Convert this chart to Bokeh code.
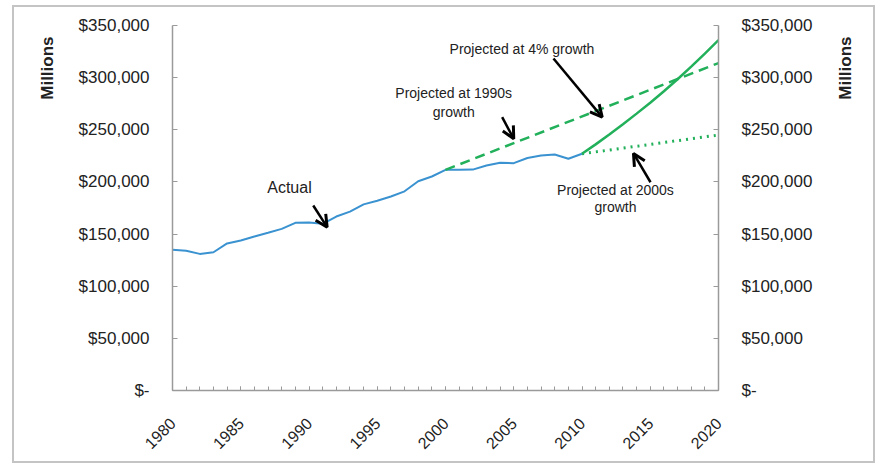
from math import pi
from bokeh.plotting import figure
from bokeh.models import (Range1d, LinearAxis, SingleIntervalTicker, FixedTicker,
                          CustomJSTickFormatter, Label, Arrow, OpenHead)
from bokeh.layouts import column, row
from bokeh.embed import file_html
from bokeh.resources import INLINE

# ---- data (values in $ millions) ----
years_actual = [1980, 1981, 1982, 1983, 1984, 1985, 1986, 1987, 1988, 1989,
                1990, 1991, 1992, 1993, 1994, 1995, 1996, 1997, 1998, 1999,
                2000, 2001, 2002, 2003, 2004, 2005, 2006, 2007, 2008, 2009, 2010]
actual = [135000, 134000, 131000, 132600, 141000, 143800, 147700, 151200, 155000, 160800,
          161000, 159800, 166800, 171500, 178500, 182000, 186000, 191000, 200700, 205200,
          211600, 211600, 211800, 215800, 218300, 218000, 223000, 225300, 226300, 222200, 227000]

years_4pct = [2010, 2011, 2012, 2013, 2014, 2015, 2016, 2017, 2018, 2019, 2020]
proj_4pct = [227000, 236000, 245500, 255300, 265500, 276000, 287000, 298500, 310500, 323000, 336000]

years_1990s = [2000, 2020]
proj_1990s = [211600, 314000]

years_2000s = [2010, 2020]
proj_2000s = [227000, 245000]

y_ticks = [0, 50000, 100000, 150000, 200000, 250000, 300000, 350000]
unit_label = "Millions"

BLUE = "#3a92d0"
GREEN = "#22b05b"
AXIS = "#9a9a9a"
TXT = "#222222"
FONT = "Liberation Sans"
H = 454

p = figure(width=762, height=H, output_backend="svg", toolbar_location=None,
           x_range=Range1d(1980, 2020), y_range=Range1d(0, 350000),
           min_border_left=108, min_border_right=108, min_border_top=18,
           min_border_bottom=71, background_fill_color="white",
           border_fill_color="white", outline_line_color=None, y_axis_location=None)

p.xgrid.visible = False
p.ygrid.visible = False

fmt = CustomJSTickFormatter(code="""
if (tick == 0) { return "$-"; }
return "$" + tick.toFixed(0).replace(/\\B(?=(\\d{3})+(?!\\d))/g, ",");
""")

for side in ("left", "right"):
    ax = LinearAxis(ticker=FixedTicker(ticks=y_ticks), formatter=fmt)
    ax.axis_line_color = AXIS
    ax.axis_line_width = 1.5
    ax.major_tick_line_color = AXIS
    ax.major_tick_in = 5
    ax.major_tick_out = 0
    ax.minor_tick_line_color = None
    ax.major_label_text_font = FONT
    ax.major_label_text_font_size = "17px"
    ax.major_label_text_color = TXT
    ax.major_label_standoff = 23
    p.add_layout(ax, side)

xa = p.xaxis[0]
xa.ticker = SingleIntervalTicker(interval=5, num_minor_ticks=5)
xa.axis_line_color = AXIS
xa.axis_line_width = 1.5
xa.major_tick_line_color = AXIS
xa.minor_tick_line_color = AXIS
xa.major_tick_in = 4
xa.major_tick_out = 0
xa.minor_tick_in = 4
xa.minor_tick_out = 0
xa.major_label_orientation = pi / 4
xa.major_label_text_font = FONT
xa.major_label_text_font_size = "16px"
xa.major_label_text_color = TXT
xa.major_label_standoff = 30

# ---- series ----
p.line(years_actual, actual, line_color=BLUE, line_width=2)
p.line(years_1990s, proj_1990s, line_color=GREEN, line_width=2.5, line_dash="10 6")
p.line(years_2000s, proj_2000s, line_color=GREEN, line_width=3, line_dash="2 5")
p.line(years_4pct, proj_4pct, line_color=GREEN, line_width=2.5)

# ---- annotations ----
def lab(fig, x, y, t, size="14px", bold=False, angle=0.0):
    fig.add_layout(Label(x=x, y=y, text=t, text_align="center", text_baseline="middle",
                         text_font=FONT, text_font_size=size, text_color=TXT,
                         text_font_style="bold" if bold else "normal", angle=angle))

lab(p, 1988.57, 194700, "Actual", size="16px")
lab(p, 2000.6, 284800, "Projected at 1990s")
lab(p, 2000.6, 267500, "growth")
lab(p, 2005.6, 327900, "Projected at 4% growth")
lab(p, 2012.45, 192400, "Projected at 2000s")
lab(p, 2012.45, 175500, "growth")

def arrow(x0, y0, x1, y1):
    p.add_layout(Arrow(end=OpenHead(size=12, line_width=3, line_color="black"),
                       x_start=x0, y_start=y0, x_end=x1, y_end=y1,
                       line_width=2.5, line_color="black"))

arrow(1990.31, 177400, 1991.33, 156600)
arrow(2004.15, 262100, 2005.0, 241400)
arrow(2007.91, 318400, 2011.48, 262100)
arrow(2015.02, 199700, 2013.77, 227300)

# ---- side strips carrying the "Millions" unit labels ----
def side_strip(w, lx):
    f = figure(width=w, height=H, output_backend="svg", toolbar_location=None,
               x_range=Range1d(0, w), y_range=Range1d(0, H), min_border=0,
               outline_line_color=None, x_axis_location=None, y_axis_location=None,
               background_fill_color="white", border_fill_color="white")
    f.grid.visible = False
    lab(f, lx, H - 53, unit_label, size="17px", bold=True, angle=pi / 2)
    return f

left_strip = side_strip(50, 33)
right_strip = side_strip(47, 19)

layout = column(row(left_strip, p, right_strip, spacing=0),
                styles={"border": "2px solid #c4c4c4"}, margin=(5, 0, 0, 12))

open("out.html", "w").write(file_html(layout, INLINE))
